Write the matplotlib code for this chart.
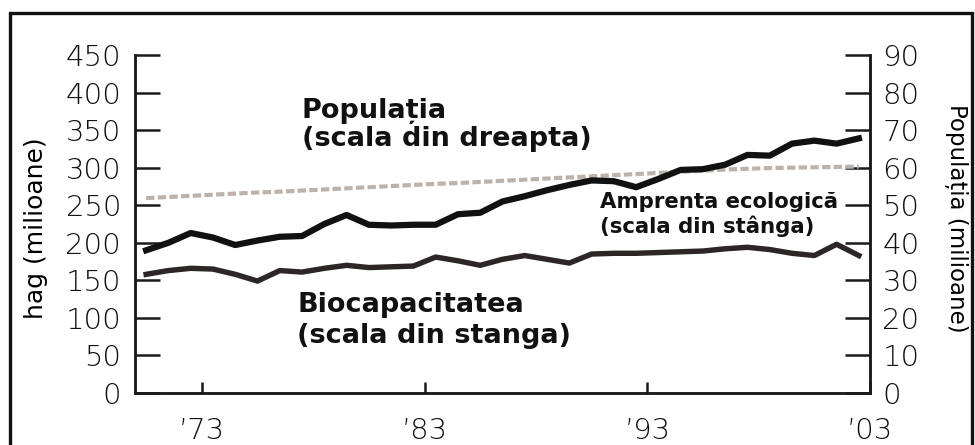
import matplotlib
matplotlib.use('Agg')
import matplotlib.pyplot as plt
from matplotlib.patches import Rectangle

# mid-year points, 1970 .. 2002
years = [y + 0.5 for y in range(1970, 2003)]

# ecological footprint, million gha (left scale)
amprenta = [190, 200, 213, 207, 197, 203, 208, 209, 225, 237, 224, 223, 224,
            224, 238, 240, 255, 262, 270, 277, 283, 282, 274, 285, 297, 298,
            304, 317, 316, 332, 336, 332, 339]

# biocapacity, million gha (left scale)
biocap = [158, 163, 166, 165, 158, 149, 163, 161, 166, 170, 167, 168, 169,
          181, 176, 170, 178, 183, 178, 173, 185, 186, 186, 187, 188, 189,
          192, 194, 191, 186, 183, 198, 183]

# population, millions (right scale)
populatie = [51.9, 52.2, 52.5, 52.8, 53.1, 53.4, 53.6, 53.9, 54.2, 54.5, 54.8,
             55.1, 55.4, 55.7, 55.9, 56.2, 56.5, 56.8, 57.1, 57.4, 57.7, 58.0,
             58.3, 58.6, 58.9, 59.2, 59.5, 59.7, 59.9, 60.0, 60.1, 60.2, 60.3]

xticks = [1973, 1983, 1993, 2003]
xlabels = ['’73', '’83', '’93', '’03']
left_ticks = list(range(0, 451, 50))
right_ticks = list(range(0, 91, 10))

W, H = 975, 445
fig = plt.figure(figsize=(W / 100, H / 100), dpi=100)

def fx(px):
    return px / W

def fy(py):
    return 1 - py / H

ax = fig.add_axes([fx(135), fy(393), fx(870 - 135), (393 - 55) / H])
ax2 = ax.twinx()
ax.set_zorder(ax2.get_zorder() + 1)
ax.patch.set_visible(False)

ax2.plot(years, populatie, color='#bbb3ab', lw=3.0, dashes=(2.0, 0.8))
ax.plot(years, biocap, color='#2e2626', lw=3.9, solid_joinstyle='round')
ax.plot(years, amprenta, color='#111111', lw=4.5, solid_joinstyle='round')

ax.set_xlim(1970, 2003)
ax.set_ylim(0, 450)
ax2.set_ylim(0, 90)

for a in (ax, ax2):
    a.spines['top'].set_visible(False)
    for s in ('left', 'right', 'bottom'):
        a.spines[s].set_linewidth(1.8)
        a.spines[s].set_color('#1a1a1a')

tick_font = dict(fontsize=21, fontweight='light', color='#111111')
ax.set_yticks(left_ticks)
ax.set_yticklabels([str(v) for v in left_ticks], **tick_font)
ax.tick_params(axis='y', direction='in', length=18, width=1.8, pad=10,
               colors='#1a1a1a', labelcolor='#111111')
ax2.set_yticks(right_ticks)
ax2.set_yticklabels([str(v) for v in right_ticks], **tick_font)
ax2.tick_params(axis='y', direction='in', length=18, width=1.8, pad=9,
                colors='#1a1a1a', labelcolor='#111111')

ax.set_xticks(xticks)
ax.set_xticklabels(xlabels, **tick_font)
ax.tick_params(axis='x', direction='in', length=8, width=1.8, pad=17,
               colors='#1a1a1a', labelcolor='#111111')

bold = dict(fontsize=19.5, fontweight='bold', color='#111111')
fig.text(fx(302), fy(118), 'Populația', **bold)
fig.text(fx(302), fy(146), '(scala din dreapta)', **bold)
fig.text(fx(297), fy(312), 'Biocapacitatea', **bold)
fig.text(fx(297), fy(343), '(scala din stanga)', **bold)
small = dict(fontsize=15.3, fontweight='bold', color='#111111')
fig.text(fx(600), fy(208), 'Amprenta ecologică', **small)
fig.text(fx(600), fy(233), '(scala din stânga)', **small)

fig.text(fx(36), fy(228), 'hag (milioane)', rotation=90, ha='center',
         va='center', fontsize=18, color='#000000')
fig.text(fx(956), fy(218), 'Populația (milioane)', rotation=270, ha='center',
         va='center', fontsize=16.5, color='#000000')

# frame around the scanned figure
fig.patches.append(Rectangle((fx(10), -0.05), fx(962), fy(13) + 0.05,
                             transform=fig.transFigure, fill=False,
                             lw=2.4, edgecolor='#111111'))

fig.savefig('out.png', dpi=100)
